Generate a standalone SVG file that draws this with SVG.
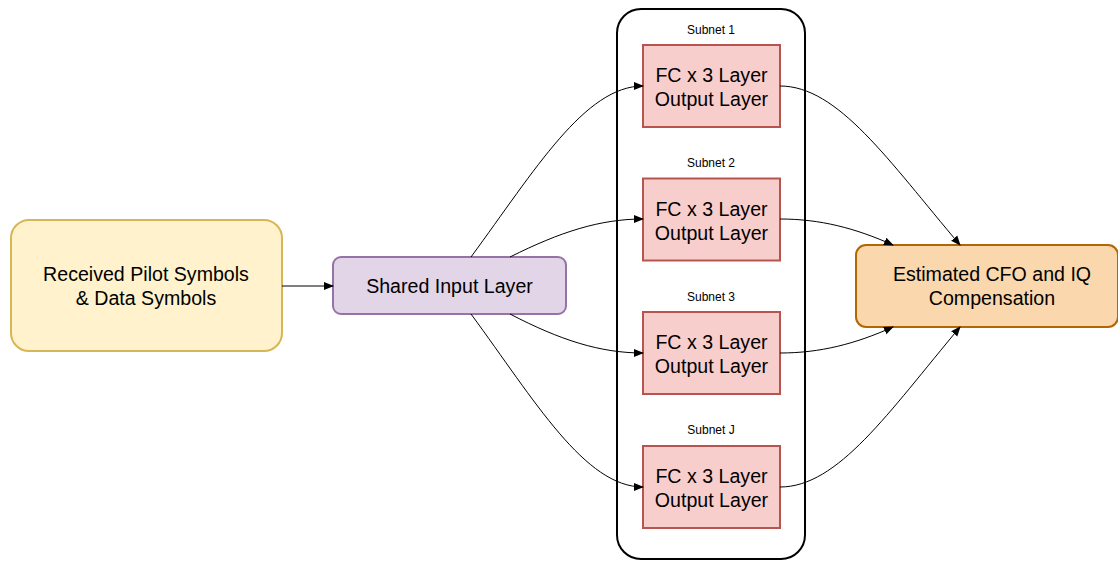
<svg xmlns="http://www.w3.org/2000/svg" width="1118" height="561" viewBox="0 0 1118 561">
<style>
text{font-family:"Liberation Sans",Arial,sans-serif;fill:#000;text-anchor:middle}
.t{font-size:19.6px}
.s{font-size:12px}
.e{fill:none;stroke:#000;stroke-width:1}
.red{fill:#f8cecc;stroke:#b85450;stroke-width:2}
</style>
<defs>
<marker id="a" viewBox="0 0 10 10" refX="9" refY="5" markerWidth="10" markerHeight="10" markerUnits="userSpaceOnUse" orient="auto">
<path d="M0,1 L10,5 L0,9 Z" fill="#000"/>
</marker>
</defs>
<rect x="0" y="0" width="1118" height="561" fill="#fff"/>
<g id="container">
<rect x="617" y="9" width="188" height="550" rx="24" fill="none" stroke="#000" stroke-width="2"/>
</g>
<g id="input">
<rect x="11" y="220" width="271" height="131" rx="18" fill="#fff2cc" stroke="#d6b656" stroke-width="2"/>
<text class="t" x="146" y="281">Received Pilot Symbols</text>
<text class="t" x="146" y="305">&amp; Data Symbols</text>
</g>
<g id="shared">
<rect x="333" y="257" width="233" height="57" rx="8" fill="#e1d5e7" stroke="#9673a6" stroke-width="2"/>
<text class="t" x="449.5" y="292.5">Shared Input Layer</text>
</g>
<g id="subnet1">
<text class="s" x="711" y="34">Subnet 1</text>
<rect class="red" x="643" y="45" width="137" height="82"/>
<text class="t" x="711.5" y="82">FC x 3 Layer</text>
<text class="t" x="711.5" y="106">Output Layer</text>
</g>
<g id="subnet2">
<text class="s" x="711" y="167">Subnet 2</text>
<rect class="red" x="643" y="178.5" width="137" height="82"/>
<text class="t" x="711.5" y="215.5">FC x 3 Layer</text>
<text class="t" x="711.5" y="239.5">Output Layer</text>
</g>
<g id="subnet3">
<text class="s" x="711" y="300.5">Subnet 3</text>
<rect class="red" x="643" y="312" width="137" height="82"/>
<text class="t" x="711.5" y="349">FC x 3 Layer</text>
<text class="t" x="711.5" y="373">Output Layer</text>
</g>
<g id="subnetJ">
<text class="s" x="711" y="434">Subnet J</text>
<rect class="red" x="643" y="446" width="137" height="82"/>
<text class="t" x="711.5" y="483">FC x 3 Layer</text>
<text class="t" x="711.5" y="507">Output Layer</text>
</g>
<g id="output">
<rect x="856" y="245" width="262" height="82" rx="10" fill="#fad7ac" stroke="#b46504" stroke-width="2"/>
<text class="t" x="992" y="281">Estimated CFO and IQ</text>
<text class="t" x="992" y="305">Compensation</text>
</g>
<g id="connectors">
<path class="e" d="M282,286 L333,286" marker-end="url(#a)"/>
<path class="e" d="M471,257 C535,170 585,86 643,86" marker-end="url(#a)"/>
<path class="e" d="M510,257 C560,232 600,219 643,219" marker-end="url(#a)"/>
<path class="e" d="M510,314 C560,340 600,353 643,353" marker-end="url(#a)"/>
<path class="e" d="M471,314 C535,401 585,487 643,487" marker-end="url(#a)"/>
<path class="e" d="M780,86 C838,86 888,160 960,245" marker-end="url(#a)"/>
<path class="e" d="M780,219 C820,219 855,228 893,245" marker-end="url(#a)"/>
<path class="e" d="M780,353 C820,353 855,344 893,327" marker-end="url(#a)"/>
<path class="e" d="M780,487 C838,487 888,413 960,327" marker-end="url(#a)"/>
</g>
</svg>
